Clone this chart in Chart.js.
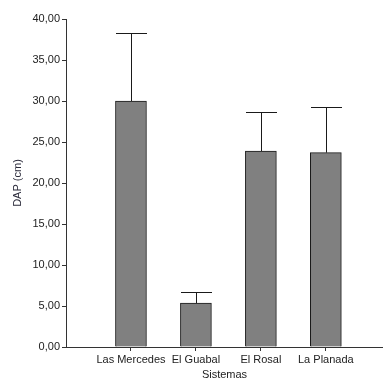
<!DOCTYPE html>
<html>
<head>
<meta charset="utf-8">
<script src="https://cdn.jsdelivr.net/npm/chart.js@4"></script>
<style>
  html, body { margin: 0; padding: 0; background: #fff; }
  #wrap { width: 383px; height: 379px; }
</style>
</head>
<body>
<div id="wrap"><canvas id="c" width="383" height="379"></canvas></div>
<script>
// Mean DAP per system and the standard deviation drawn above each bar
const categories = ['Las Mercedes', 'El Guabal', 'El Rosal', 'La Planada'];
const dapMeans = [30.0, 5.35, 23.9, 23.7];
const dapErrors = [8.3, 1.3, 4.75, 5.55];
const yTicks = [0, 5, 10, 15, 20, 25, 30, 35, 40];

const textColor = '#222';
const axisColor = '#333';
const font = { family: 'Liberation Sans, Arial, sans-serif', size: 11 };

// Vertical whisker plus a cap line, from the bar top to mean + error
const errorBars = {
  id: 'errorBars',
  afterDatasetsDraw(chart) {
    const meta = chart.getDatasetMeta(0);
    const y = chart.scales.y;
    const ctx = chart.ctx;
    ctx.save();
    ctx.strokeStyle = '#1a1a1a';
    ctx.lineWidth = 1;
    meta.data.forEach((bar, i) => {
      const cx = Math.round(bar.x) + 0.5;
      const top = Math.round(y.getPixelForValue(dapMeans[i] + dapErrors[i])) + 0.5;
      const base = y.getPixelForValue(dapMeans[i]);
      const half = bar.width / 2;
      ctx.beginPath();
      ctx.moveTo(cx, base);
      ctx.lineTo(cx, top);
      ctx.moveTo(cx - half, top);
      ctx.lineTo(cx + half, top);
      ctx.stroke();
    });
    ctx.restore();
  }
};

new Chart(document.getElementById('c'), {
  type: 'bar',
  data: {
    datasets: [{
      data: categories.map((c, i) => ({ x: i + 1, y: dapMeans[i] })),
      backgroundColor: '#808080',
      borderColor: '#1a1a1a',
      borderWidth: 1,
      barThickness: 31
    }]
  },
  options: {
    responsive: false,
    animation: false,
    events: [],
    layout: { padding: { left: 0, right: 0, top: 19, bottom: 0 } },
    plugins: { legend: { display: false }, tooltip: { enabled: false } },
    scales: {
      x: {
        type: 'linear',
        offset: false,
        min: 0,
        max: 4.88,
        afterBuildTicks(scale) { scale.ticks = categories.map((c, i) => ({ value: i + 1 })); },
        afterFit(scale) { scale.height = 32; },
        ticks: {
          autoSkip: false,
          maxRotation: 0,
          padding: 2,
          color: textColor,
          font: font,
          callback: (v) => categories[v - 1] || ''
        },
        grid: { offset: false, drawOnChartArea: false, drawTicks: true, tickLength: 4, color: axisColor },
        border: { display: true, color: axisColor, width: 1 },
        title: { display: true, text: 'Sistemas', color: textColor, font: font, padding: { top: 0, bottom: -3 } }
      },
      y: {
        min: 0,
        max: 40,
        afterBuildTicks(scale) { scale.ticks = yTicks.map(v => ({ value: v })); },
        afterFit(scale) { scale.width = 66; },
        ticks: {
          padding: 2,
          color: textColor,
          font: font,
          callback: (v) => v.toFixed(2).replace('.', ',')
        },
        grid: { drawOnChartArea: false, drawTicks: true, tickLength: 4, color: axisColor },
        border: { display: true, color: axisColor, width: 1 },
        title: { display: true, text: 'DAP (cm)', color: '#2a2a3a', font: font, padding: { top: 11, bottom: 0 } }
      }
    }
  },
  plugins: [errorBars]
});
</script>
</body>
</html>
